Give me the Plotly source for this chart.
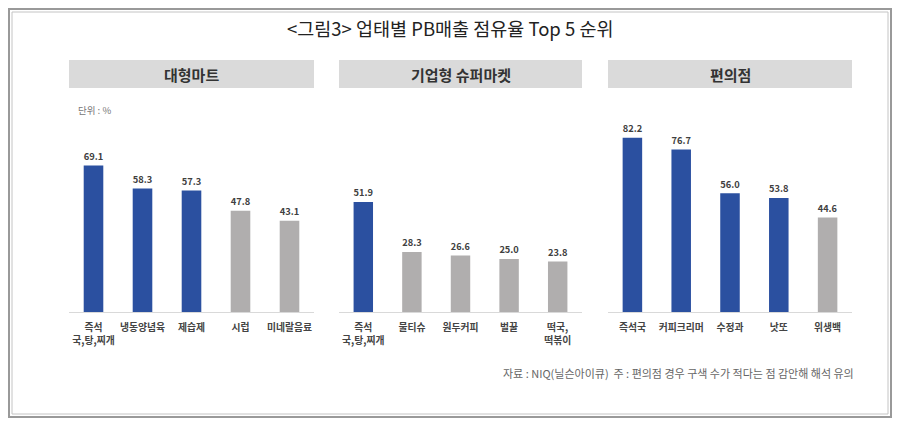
import plotly.graph_objects as go

# <그림3> 업태별 PB매출 점유율 Top 5 순위
hyper_cats = ["즉석<br>국,탕,찌개", "냉동양념육", "제습제", "시럽", "미네랄음료"]
hyper_vals = [69.1, 58.3, 57.3, 47.8, 43.1]
hyper_hi = [True, True, True, False, False]

ssm_cats = ["즉석<br>국,탕,찌개", "물티슈", "원두커피", "벌꿀", "떡국,<br>떡볶이"]
ssm_vals = [51.9, 28.3, 26.6, 25.0, 23.8]
ssm_hi = [True, False, False, False, False]

cvs_cats = ["즉석국", "커피크리머", "수정과", "낫또", "위생백"]
cvs_vals = [82.2, 76.7, 56.0, 53.8, 44.6]
cvs_hi = [True, True, True, True, False]

panel_titles = ["대형마트", "기업형 슈퍼마켓", "편의점"]

BLUE = "#2b50a0"
GRAY = "#b0aeae"
FONT = "Noto Sans CJK KR"

# the page body has an 8px margin, so lay things out in window pixels
# and shift them by that amount
OFF = 8
W, H = 900 - OFF, 425 - OFF


def px(x):
    return (x - OFF) / W


def py(y):
    return (H - (y - OFF)) / H


# panel x ranges in window pixels
panels_px = [(69, 314), (339, 582), (608, 852)]
y_bottom_px, y_top_px = 312, 100

fig = go.Figure()
panels = [(hyper_cats, hyper_vals, hyper_hi),
          (ssm_cats, ssm_vals, ssm_hi),
          (cvs_cats, cvs_vals, cvs_hi)]

for i, (cats, vals, hi) in enumerate(panels):
    n = "" if i == 0 else str(i + 1)
    fig.add_trace(go.Bar(
        x=cats, y=vals,
        marker_color=[BLUE if h else GRAY for h in hi],
        marker_line_width=0,
        width=0.4,
        text=[f"{v:.1f}" for v in vals],
        textposition="outside",
        textfont=dict(family=FONT, size=11, color="#404040", weight="bold"),
        cliponaxis=False,
        xaxis="x" + n, yaxis="y" + n,
        showlegend=False,
    ))
    x0, x1 = panels_px[i]
    fig.update_layout({
        "xaxis" + n: dict(
            domain=[px(x0), px(x1)], anchor="y" + n,
            showline=True, linecolor="#d9d9d9", linewidth=1,
            showgrid=False, ticks="", fixedrange=True,
            ticklabelstandoff=6,
            tickfont=dict(family=FONT, size=9.8, color="#444444", weight="bold"),
        ),
        "yaxis" + n: dict(
            domain=[py(y_bottom_px), py(y_top_px)], anchor="x" + n,
            range=[0, 100], visible=False, showgrid=False,
        ),
    })
    # header box
    fig.add_shape(type="rect", xref="paper", yref="paper",
                  x0=px(x0), x1=px(x1), y0=py(88), y1=py(60),
                  fillcolor="#dadada", line_width=0, layer="below")
    fig.add_annotation(text=panel_titles[i], xref="paper", yref="paper",
                       x=px((x0 + x1) / 2), y=py(74),
                       xanchor="center", yanchor="middle", showarrow=False,
                       font=dict(family=FONT, size=15, color="#333333", weight="bold"))

# outer frame
fig.add_shape(type="rect", xref="paper", yref="paper",
              x0=px(9), x1=px(891), y0=py(417), y1=py(9),
              line=dict(color="#999999", width=2), layer="below")
fig.add_shape(type="rect", xref="paper", yref="paper",
              x0=px(12), x1=px(888), y0=py(414), y1=py(12),
              line=dict(color="#c4c4c4", width=1), layer="below")

fig.add_annotation(text="<그림3> 업태별 PB매출 점유율 Top 5 순위",
                   xref="paper", yref="paper", x=px(450), y=py(28),
                   xanchor="center", yanchor="middle", showarrow=False,
                   font=dict(family=FONT, size=18.5, color="#222222"))
fig.add_annotation(text="단위 : %", xref="paper", yref="paper",
                   x=px(76), y=py(110), xanchor="left", yanchor="middle",
                   showarrow=False,
                   font=dict(family=FONT, size=9.5, color="#777777"))
fig.add_annotation(text="자료 : NIQ(닐슨아이큐)  주 : 편의점 경우 구색 수가 적다는 점 감안해 해석 유의",
                   xref="paper", yref="paper", x=px(856), y=py(373),
                   xanchor="right", yanchor="middle", showarrow=False,
                   font=dict(family=FONT, size=11, color="#666666"))

fig.update_layout(
    width=W, height=H,
    margin=dict(l=0, r=0, t=0, b=0),
    paper_bgcolor="white", plot_bgcolor="white",
    bargap=0.6,
)

fig.write_html("out.html")
